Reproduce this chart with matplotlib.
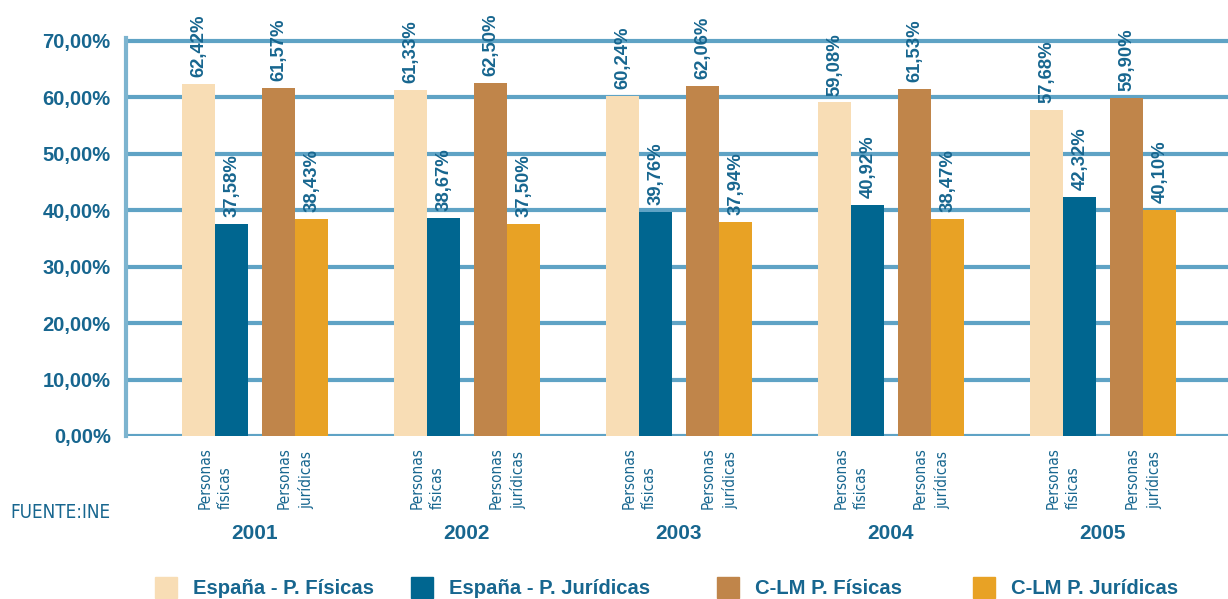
import numpy as np
import matplotlib
matplotlib.use('Agg')
import matplotlib.pyplot as plt
from matplotlib.patches import Rectangle

years = ['2001', '2002', '2003', '2004', '2005']
espana_pf = [62.42, 61.33, 60.24, 59.08, 57.68]
espana_pj = [37.58, 38.67, 39.76, 40.92, 42.32]
clm_pf = [61.57, 62.50, 62.06, 61.53, 59.90]
clm_pj = [38.43, 37.50, 37.94, 38.47, 40.10]
series_names = ['España - P. Físicas', 'España - P. Jurídicas',
                'C-LM P. Físicas', 'C-LM P. Jurídicas']
sub_labels = ['Personas\nfísicas', 'Personas\njurídicas']
yticks = [0, 10, 20, 30, 40, 50, 60, 70]

colors = ['#f8ddb5', '#006690', '#c0854a', '#e8a225']
txt = '#17668f'
grid_c = '#5fa3c5'

plt.rcParams['font.family'] = ['Liberation Sans', 'DejaVu Sans']
narrow = dict(family='DejaVu Sans', fontstretch='condensed')

fig = plt.figure(figsize=(12.28, 5.99), dpi=100)
ax = fig.add_axes([126 / 1228, 1 - 436 / 599, 1 - 126 / 1228, 398 / 599])

x = np.arange(len(years))
w = 0.156
offsets = [-0.265, -0.109, 0.113, 0.269]
data = [espana_pf, espana_pj, clm_pf, clm_pj]

for vals, off, c in zip(data, offsets, colors):
    bars = ax.bar(x + off, vals, width=w, color=c, zorder=3)
    for b, v in zip(bars, vals):
        ax.annotate(f'{v:.2f}'.replace('.', ',') + '%',
                    (b.get_x() + b.get_width() / 2, v),
                    xytext=(0, 5), textcoords='offset points',
                    rotation=90, ha='center', va='bottom',
                    fontsize=13.3, fontweight='bold', color=txt, zorder=4)

ax.set_xlim(-0.608, 4.59)
ax.set_ylim(0, 70.5)
ax.set_yticks(yticks)
ax.set_yticklabels([f'{t},00%' for t in yticks], fontsize=14.5,
                   fontweight='bold', color=txt)
ax.tick_params(axis='y', length=0, pad=11)
ax.set_xticks([])
ax.yaxis.grid(True, color=grid_c, lw=3, zorder=1)
ax.set_axisbelow(True)
for s in ['top', 'right', 'bottom']:
    ax.spines[s].set_visible(False)
ax.spines['left'].set_color('#7db4cf')
ax.spines['left'].set_linewidth(3)

# sub labels and years under the groups
tr = ax.get_xaxis_transform()
for i, yr in enumerate(x):
    for j, lab in enumerate(sub_labels):
        cx = yr + (offsets[2 * j] + offsets[2 * j + 1]) / 2
        ax.text(cx, -0.027, lab, transform=tr, rotation=90, ha='center',
                va='top', multialignment='left', fontsize=11,
                color=txt, linespacing=1.45, **narrow)
    ax.text(yr, -0.244, years[i], transform=tr, ha='center', va='center',
            fontsize=15, fontweight='bold', color=txt)

fig.text(10 / 1228, 1 - 513 / 599, 'FUENTE:INE', ha='left', va='center',
         fontsize=13.5, color=txt, **narrow)

# legend
leg_x = [155, 411, 717, 973]
for px, name, c in zip(leg_x, series_names, colors):
    fig.patches.append(Rectangle((px / 1228, 1 - 598 / 599), 22 / 1228, 21 / 599,
                                 transform=fig.transFigure, color=c))
    fig.text((px + 38) / 1228, 1 - 588 / 599, name, ha='left', va='center',
             fontsize=14.6, fontweight='bold', color=txt)

fig.savefig('out.png', dpi=100)
